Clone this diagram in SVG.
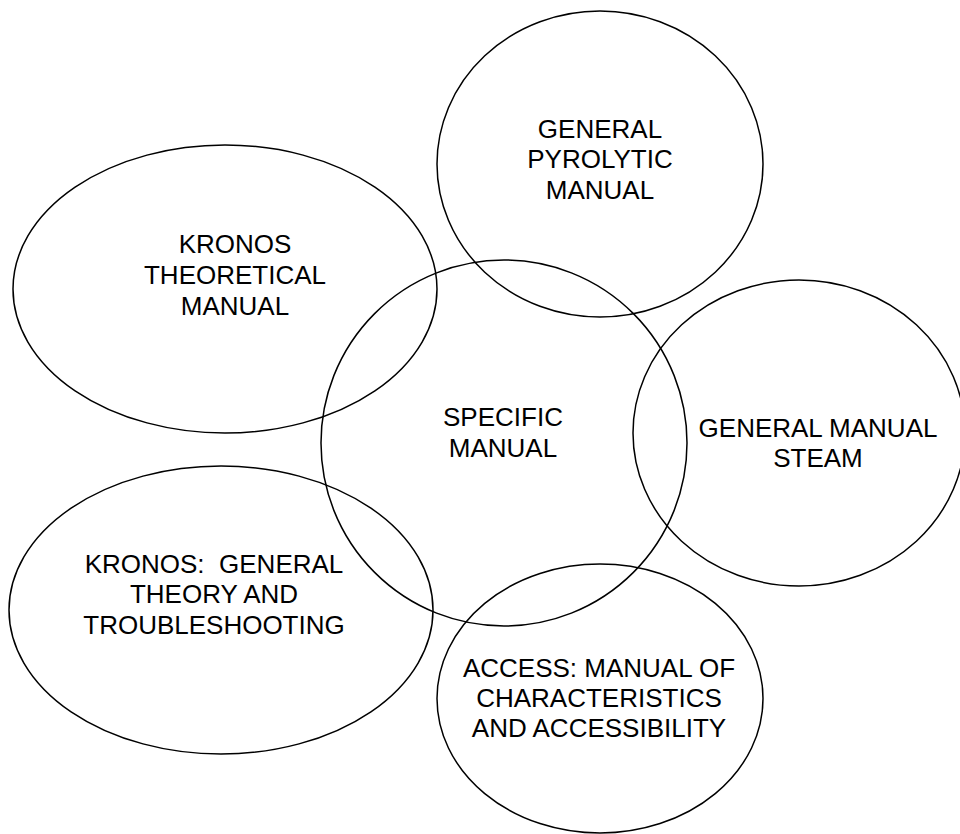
<svg xmlns="http://www.w3.org/2000/svg" width="960" height="834" viewBox="0 0 960 834">
<style>
.n ellipse{fill:none;stroke:#000;stroke-width:1.5}
.n text{font-family:"Liberation Sans",Arial,sans-serif;font-size:26px;fill:#000;text-anchor:middle;white-space:pre}
</style>
<rect width="960" height="834" fill="#fff"/>
<g id="connectors"></g>
<g id="pyrolytic" class="n">
<ellipse cx="600" cy="164" rx="163" ry="153"/>
<text x="600" y="138">GENERAL</text>
<text x="600" y="168">PYROLYTIC</text>
<text x="600" y="199">MANUAL</text>
</g>
<g id="kronos-theoretical" class="n">
<ellipse cx="225" cy="289" rx="212" ry="144"/>
<text x="235" y="253">KRONOS</text>
<text x="235" y="284">THEORETICAL</text>
<text x="235" y="315">MANUAL</text>
</g>
<g id="specific" class="n">
<ellipse cx="504" cy="443" rx="183" ry="183"/>
<text x="503" y="426">SPECIFIC</text>
<text x="503" y="457">MANUAL</text>
</g>
<g id="steam" class="n">
<ellipse cx="799" cy="433" rx="166" ry="153"/>
<text x="818" y="437">GENERAL MANUAL</text>
<text x="818" y="467">STEAM</text>
</g>
<g id="kronos-general" class="n">
<ellipse cx="221" cy="610" rx="212" ry="144"/>
<text x="214" y="573" xml:space="preserve">KRONOS:  GENERAL</text>
<text x="214" y="603">THEORY AND</text>
<text x="214" y="634">TROUBLESHOOTING</text>
</g>
<g id="access" class="n">
<ellipse cx="600" cy="698.5" rx="163" ry="134.5"/>
<text x="599" y="677">ACCESS: MANUAL OF</text>
<text x="599" y="707">CHARACTERISTICS</text>
<text x="599" y="737">AND ACCESSIBILITY</text>
</g>
</svg>
